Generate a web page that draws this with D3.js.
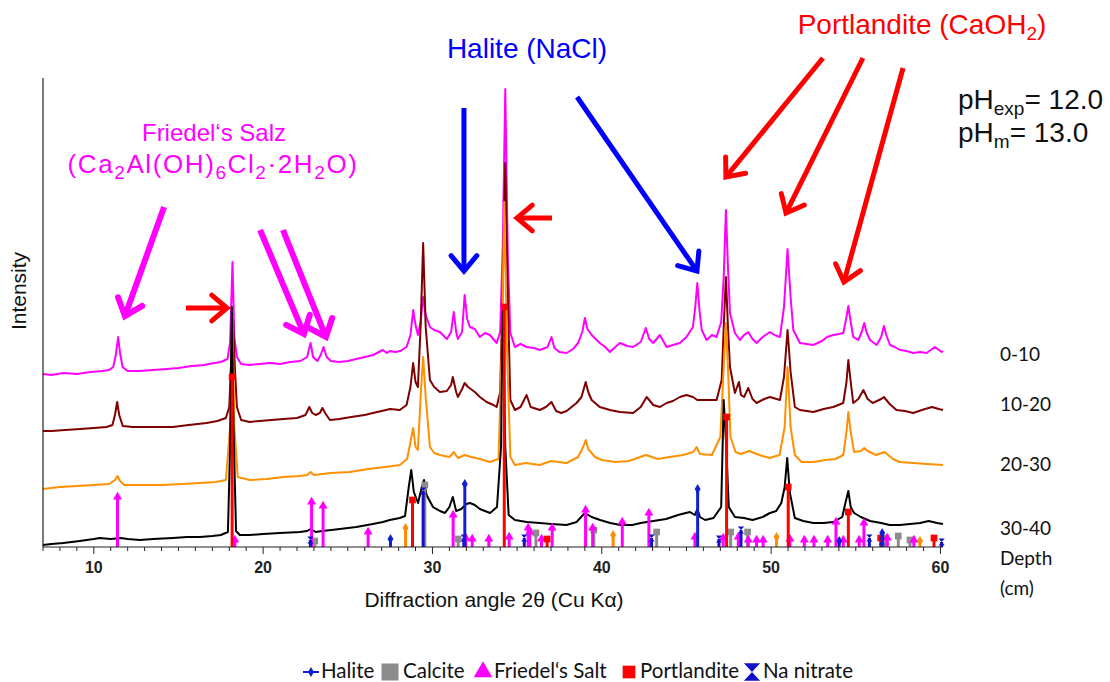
<!DOCTYPE html>
<html>
<head>
<meta charset="utf-8">
<script src="https://d3js.org/d3.v7.min.js"></script>
<style>
  html, body { margin: 0; padding: 0; background: #fff; }
  svg { display: block; }
</style>
</head>
<body>
<svg id="chart" width="1110" height="682"></svg>
<script>
// ---- XRD patterns: [2θ (deg), intensity (a.u., offset included)] ----
const pattern0_10 = [[6.99,173],[7.5,172],[8.2,174],[9.0,173],[9.8,175],[10.5,176],[10.9,177],[11.15,180],[11.3,192],[11.44,210],[11.55,194],[11.7,180],[12.0,176],[12.7,176],[13.5,177],[14.3,178],[15.0,179],[15.8,181],[16.5,182],[17.1,184],[17.5,185],[17.9,188],[18.05,205],[18.19,285],[18.3,210],[18.45,190],[18.7,183],[19.2,182],[19.8,183],[20.4,184],[21.0,183],[21.6,185],[22.2,186],[22.6,190],[22.8,204],[22.95,190],[23.2,186],[23.4,192],[23.57,200],[23.75,190],[24.0,186],[24.5,185],[25.0,186],[25.5,188],[26.0,190],[26.5,192],[27.07,197],[27.3,194],[27.48,196],[27.8,195],[28.1,196],[28.47,200],[28.7,212],[28.86,237],[29.0,222],[29.14,212],[29.3,225],[29.45,250],[29.6,232],[29.85,220],[30.1,217],[30.44,215],[30.85,208],[31.1,215],[31.26,235],[31.4,215],[31.5,208],[31.75,215],[31.9,252],[32.05,228],[32.21,220],[32.5,218],[32.8,210],[33.1,214],[33.39,212],[33.79,204],[34.0,215],[34.15,300],[34.3,458],[34.45,290],[34.6,214],[34.87,200],[35.2,203],[35.56,200],[36.0,199],[36.34,197],[36.8,200],[37.03,210],[37.2,199],[37.5,195],[37.92,194],[38.3,198],[38.6,204],[38.85,215],[39.0,229],[39.15,218],[39.4,212],[39.88,204],[40.2,200],[40.48,195],[40.8,200],[41.07,204],[41.5,201],[41.85,200],[42.3,205],[42.6,219],[42.8,208],[43.04,204],[43.43,212],[43.83,200],[44.2,202],[44.61,204],[45.0,210],[45.38,220],[45.52,240],[45.64,264],[45.78,235],[45.9,217],[46.19,207],[46.5,212],[46.78,210],[47.05,225],[47.2,270],[47.33,337],[47.45,280],[47.57,234],[47.86,214],[48.16,207],[48.4,212],[48.65,215],[48.9,208],[49.14,204],[49.5,210],[49.93,215],[50.2,212],[50.52,210],[50.76,240],[50.97,298],[51.15,250],[51.31,217],[51.7,204],[52.1,203],[52.49,202],[53.0,206],[53.3,210],[53.67,212],[54.0,213],[54.26,214],[54.45,230],[54.56,241],[54.7,225],[54.85,210],[55.15,207],[55.35,215],[55.5,224],[55.65,214],[55.84,207],[56.23,202],[56.5,210],[56.66,221],[56.8,212],[57.02,202],[57.3,200],[57.61,197],[58.0,196],[58.39,194],[58.8,195],[59.18,194],[59.67,200],[60.07,195],[60.15,196]];

const pattern10_20 = [[6.99,116],[7.5,116],[8.3,117],[9.2,118],[10.0,119],[10.75,120],[11.1,122],[11.25,132],[11.38,145],[11.5,132],[11.71,121],[12.3,120],[13.5,120],[14.67,120],[15.6,122],[16.66,124],[17.3,126],[17.8,129],[18.0,140],[18.12,190],[18.23,227],[18.33,180],[18.45,140],[18.7,127],[19.2,125],[19.8,126],[20.5,127],[21.2,128],[22.0,129],[22.5,132],[22.73,140],[22.9,134],[23.1,132],[23.35,134],[23.5,139],[23.7,133],[23.94,127],[24.5,128],[25.2,130],[26.0,132],[26.48,134],[27.0,136],[27.5,138],[28.07,137],[28.47,142],[28.7,160],[28.86,184],[29.0,165],[29.14,160],[29.3,220],[29.45,304],[29.6,220],[29.85,167],[30.1,160],[30.44,155],[30.85,156],[31.1,162],[31.2,170],[31.4,155],[31.5,150],[31.75,158],[31.9,164],[32.1,160],[32.5,155],[32.8,150],[33.2,145],[33.6,142],[33.79,140],[34.0,155],[34.15,260],[34.3,384],[34.45,250],[34.6,147],[34.87,137],[35.2,140],[35.56,152],[35.8,140],[36.34,137],[36.7,140],[37.03,145],[37.3,136],[37.6,134],[37.92,136],[38.51,144],[38.8,150],[39.05,165],[39.2,155],[39.4,147],[39.88,140],[40.48,137],[41.07,135],[41.85,134],[42.3,140],[42.65,150],[43.04,142],[43.43,140],[43.83,144],[44.2,146],[44.61,150],[45.0,152],[45.38,150],[45.64,147],[46.19,147],[46.78,147],[47.08,167],[47.2,220],[47.33,270],[47.45,220],[47.57,180],[47.86,154],[48.1,165],[48.22,152],[48.4,150],[48.65,159],[48.9,148],[49.14,144],[49.6,148],[49.93,150],[50.52,147],[50.76,170],[50.97,217],[51.15,175],[51.4,140],[51.7,137],[52.49,135],[53.1,138],[53.67,140],[54.26,144],[54.45,165],[54.56,187],[54.7,165],[54.85,144],[55.15,148],[55.45,157],[55.7,148],[56.0,144],[56.5,148],[56.66,150],[57.0,143],[57.4,137],[57.9,136],[58.39,134],[58.9,137],[59.5,140],[59.9,138],[60.15,137]];

const pattern20_30 = [[6.99,58],[8.0,60],[9.0,61],[10.0,62],[10.9,63],[11.25,67],[11.4,71],[11.55,66],[11.8,62],[12.8,62],[14.0,62],[15.2,63],[16.26,64],[17.2,65],[17.8,67],[18.05,120],[18.19,230],[18.3,120],[18.5,70],[19.21,67],[20.2,68],[21.2,70],[22.17,71],[22.6,72],[22.8,75],[23.0,72],[23.5,73],[24.0,74],[25.12,75],[26.2,78],[27.2,80],[28.07,82],[28.5,88],[28.7,105],[28.86,119],[29.0,100],[29.14,97],[29.3,150],[29.45,190],[29.6,150],[29.85,100],[30.1,94],[30.44,92],[31.0,90],[31.26,95],[31.5,89],[31.9,92],[32.3,90],[32.8,88],[33.39,85],[33.9,88],[34.1,200],[34.24,345],[34.4,200],[34.6,90],[34.87,82],[35.5,84],[36.34,82],[37.0,86],[37.92,84],[38.6,90],[38.9,100],[39.05,107],[39.2,98],[39.6,90],[40.0,87],[40.8,85],[41.6,86],[42.6,92],[43.3,88],[44.0,90],[44.8,92],[45.4,95],[45.6,100],[45.8,93],[46.5,92],[47.0,110],[47.2,180],[47.33,224],[47.45,180],[47.6,110],[47.9,95],[48.2,93],[48.7,96],[49.3,92],[49.9,89],[50.5,92],[50.8,120],[50.97,180],[51.15,120],[51.4,92],[51.8,85],[52.5,85],[53.2,87],[53.8,88],[54.26,92],[54.45,115],[54.56,135],[54.7,115],[54.9,95],[55.3,96],[55.5,99],[55.7,96],[56.2,92],[56.7,95],[57.2,88],[57.6,85],[58.4,84],[59.2,83],[60.15,82]];

const pattern30_40 = [[6.99,2],[7.5,3],[8.2,4],[9.17,6],[10.0,8],[10.35,9],[11.0,8],[11.6,9],[12.0,8],[12.72,7],[13.5,8],[14.67,9],[15.5,10],[16.26,10],[17.0,11],[17.5,12],[17.92,15],[18.05,100],[18.15,240],[18.25,120],[18.4,16],[18.62,12],[19.21,12],[20.0,13],[20.99,14],[22.17,15],[22.6,16],[22.8,18],[23.1,15],[23.5,16],[24.53,18],[25.5,20],[26.48,23],[27.07,25],[27.48,27],[28.07,29],[28.38,31],[28.6,60],[28.75,77],[28.9,55],[29.15,44],[29.3,55],[29.5,67],[29.65,52],[30.03,40],[30.44,36],[30.74,34],[31.0,40],[31.2,50],[31.4,36],[31.7,38],[32.0,43],[32.22,44],[32.5,42],[32.8,38],[33.4,34],[33.81,40],[34.05,100],[34.15,240],[34.3,100],[34.5,32],[34.87,27],[35.56,25],[36.34,24],[37.03,23],[37.92,22],[38.51,25],[39.0,34],[39.4,30],[39.9,27],[40.5,24],[41.1,22],[41.8,22],[42.3,24],[43.04,26],[43.8,28],[44.5,32],[45.2,35],[45.5,32],[45.64,38],[45.8,30],[46.1,27],[46.6,29],[47.05,40],[47.2,147],[47.35,100],[47.5,40],[47.86,30],[48.4,29],[48.9,27],[49.5,30],[49.93,34],[50.3,36],[50.6,44],[50.8,60],[50.95,89],[51.1,55],[51.4,29],[51.9,26],[52.49,24],[53.1,24],[53.67,25],[54.2,30],[54.4,45],[54.56,56],[54.7,40],[54.9,34],[55.3,30],[55.84,26],[56.5,24],[57.0,22],[57.6,22],[58.2,23],[58.8,24],[59.3,26],[59.8,24],[60.15,23]];

const depthLabels = ["0-10", "10-20", "20-30", "30-40"];

// ---- Reference stick patterns: [2θ, relative height] ----
const halite = [[27.52,8],[31.91,63],[45.66,58],[54.02,6],[56.56,14]];
const calcite = [[23.05,6],[29.55,62],[31.52,8],[36.11,14],[39.53,17],[43.24,15],[47.61,15],[48.61,15],[56.72,9],[57.51,11],[58.2,7]];
const friedel = [[11.4,50],[18.33,7],[22.86,45],[23.54,41],[26.2,15],[31.22,32],[31.97,9],[32.35,8],[33.33,8],[34.53,10],[35.65,19],[35.75,15],[36.44,8],[37.07,19],[39.04,37],[39.46,19],[41.21,25],[42.78,34],[45.5,10],[47.17,9],[48.06,10],[48.65,7],[49.14,7],[49.53,7],[51.11,8],[51.96,7],[52.53,7],[53.34,7],[53.83,25],[54.26,7],[55.2,7],[55.48,24],[56.86,9],[58.43,7]];
const portlandite = [[18.17,170],[28.82,47],[34.24,240],[36.77,8],[47.37,130],[51.01,60],[54.56,35],[56.47,9],[59.62,9]];
const naNitrate = [[22.79,7],[29.45,56],[31.85,9],[35.42,9],[42.94,9],[46.92,8],[48.22,17],[55.8,9],[56.55,6],[60.07,5]];
const otherPhase = [[28.41,19],[40.67,12],[50.32,10],[58.79,6]];

const xTickValues = [10, 20, 30, 40, 50, 60];

// ---- Layout ----
const svg = d3.select("#chart");
const x = d3.scaleLinear().domain([7, 60.15]).range([43, 943]);
const y = d3.scaleLinear().domain([0, 469]).range([547, 78]);

const traces = [
  { data: pattern0_10,  color: "#ff00ff" },
  { data: pattern10_20, color: "#7f0000" },
  { data: pattern20_30, color: "#ff9000" },
  { data: pattern30_40, color: "#000000" }
];

const line = d3.line().x(d => x(d[0])).y(d => y(d[1]));
svg.append("g").selectAll("path").data(traces).join("path")
  .attr("d", d => line(d.data))
  .attr("fill", "none")
  .attr("stroke", d => d.color)
  .attr("stroke-width", 2)
  .attr("stroke-linejoin", "round");

// ---- Stick markers ----
const hourglass = {
  draw(ctx, size) {
    const r = Math.sqrt(size) / 2;
    ctx.moveTo(-r, -r * 1.1); ctx.lineTo(r, -r * 1.1); ctx.lineTo(-r, r * 1.1); ctx.lineTo(r, r * 1.1); ctx.closePath();
  }
};
const phases = [
  { data: otherPhase,  color: "#ff8c00", symbol: d3.symbolDiamond, size: 30 },
  { data: calcite,     color: "#8c8c8c", symbol: d3.symbolSquare,  size: 45 },
  { data: friedel,     color: "#ff00ff", symbol: d3.symbolTriangle, size: 35 },
  { data: portlandite, color: "#ff0000", symbol: d3.symbolSquare,  size: 45 },
  { data: naNitrate,   color: "#1010c8", symbol: hourglass,        size: 40 },
  { data: halite,      color: "#1020d0", symbol: d3.symbolDiamond, size: 30 }
];
const sticks = svg.append("g");
phases.forEach(p => {
  const g = sticks.append("g");
  g.selectAll("line").data(p.data).join("line")
    .attr("x1", d => x(d[0])).attr("x2", d => x(d[0]))
    .attr("y1", y(0)).attr("y2", d => y(d[1]))
    .attr("stroke", p.color).attr("stroke-width", 3);
  g.selectAll("path").data(p.data).join("path")
    .attr("transform", d => `translate(${x(d[0])},${y(d[1])})`)
    .attr("d", d3.symbol(p.symbol, p.size))
    .attr("fill", p.color);
});

// ---- Axes ----
const axisG = svg.append("g").attr("font-family", "'Liberation Sans', Arial, sans-serif");
const minorTicks = d3.range(7, 61, 1);
axisG.selectAll("line.tick").data(minorTicks).join("line")
  .attr("x1", d => x(d)).attr("x2", d => x(d))
  .attr("y1", y(0)).attr("y2", d => y(0) + (d % 10 === 0 ? 7 : 4))
  .attr("stroke", "#222").attr("stroke-width", 1);
axisG.append("line").attr("x1", 43).attr("x2", 943).attr("y1", y(0)).attr("y2", y(0))
  .attr("stroke", "#222").attr("stroke-width", 1.2);
axisG.append("line").attr("x1", 43).attr("x2", 43).attr("y1", y(0)).attr("y2", 78)
  .attr("stroke", "#222").attr("stroke-width", 1.2);
axisG.selectAll("text.tl").data(xTickValues).join("text")
  .attr("x", d => x(d)).attr("y", 573)
  .attr("text-anchor", "middle").attr("font-size", 16).attr("font-weight", "bold")
  .attr("fill", "#222").text(d => d);
axisG.append("text").attr("x", 494).attr("y", 607).attr("text-anchor", "middle")
  .attr("font-size", 21).attr("fill", "#111").text("Diffraction angle 2θ (Cu Kα)");
axisG.append("text").attr("transform", "translate(26,291) rotate(-90)")
  .attr("text-anchor", "middle").attr("font-size", 21).attr("fill", "#111").text("Intensity");

// ---- Depth labels ----
const sideFont = "Lato, 'Open Sans', sans-serif";
const depthY = [361, 411, 471, 535];
svg.append("g").selectAll("text").data(depthLabels).join("text")
  .attr("x", 1000).attr("y", (d, i) => depthY[i])
  .attr("font-family", sideFont).attr("font-size", 19).attr("fill", "#111").text(d => d);
svg.append("text").attr("x", 1000).attr("y", 565).attr("font-family", sideFont).attr("font-size", 19).attr("fill", "#111").text("Depth");
svg.append("text").attr("x", 1000).attr("y", 595).attr("font-family", sideFont).attr("font-size", 19).attr("fill", "#111").text("(cm)");

// ---- Annotation arrows, in data coordinates [2θ, intensity] ----
const arrows = [
  { from: [14.15, 340], to: [11.84, 231], color: "#ff00ff", w: 6 },
  { from: [19.82, 317], to: [22.41, 213], color: "#ff00ff", w: 6 },
  { from: [21.17, 317], to: [23.71, 210], color: "#ff00ff", w: 6 },
  { from: [15.44, 239], to: [17.87, 239], color: "#ff0000", w: 5 },
  { from: [37.06, 329], to: [34.99, 329], color: "#ff0000", w: 5 },
  { from: [53.06, 489], to: [47.33, 370], color: "#ff0000", w: 5 },
  { from: [55.42, 489], to: [50.88, 334], color: "#ff0000", w: 5 },
  { from: [57.79, 479], to: [54.30, 265], color: "#ff0000", w: 5 },
  { from: [31.86, 439], to: [31.86, 276], color: "#0000ff", w: 5 },
  { from: [38.54, 450], to: [45.62, 276], color: "#0000ff", w: 5 }
];
const arrowG = svg.append("g");
arrows.forEach(a => {
  const x1 = x(a.from[0]), y1 = y(a.from[1]), x2 = x(a.to[0]), y2 = y(a.to[1]);
  const ang = Math.atan2(y2 - y1, x2 - x1);
  const L = 20, spread = Math.PI / 4.5;
  const back = ang + Math.PI;
  const p1 = [x2 + L * Math.cos(back - spread), y2 + L * Math.sin(back - spread)];
  const p2 = [x2 + L * Math.cos(back + spread), y2 + L * Math.sin(back + spread)];
  arrowG.append("line").attr("x1", x1).attr("y1", y1)
    .attr("x2", x2 - 2 * Math.cos(ang)).attr("y2", y2 - 2 * Math.sin(ang))
    .attr("stroke", a.color).attr("stroke-width", a.w);
  arrowG.append("path").attr("d", `M${p1[0]},${p1[1]}L${x2},${y2}L${p2[0]},${p2[1]}`)
    .attr("fill", "none").attr("stroke", a.color).attr("stroke-width", a.w)
    .attr("stroke-linejoin", "miter").attr("stroke-linecap", "round");
});

// ---- Annotation text ----
const annFont = "'Liberation Sans', Arial, sans-serif";
svg.append("text").attr("x", 527).attr("y", 58).attr("text-anchor", "middle")
  .attr("font-family", annFont).attr("font-size", 28).attr("fill", "#0000ff").text("Halite (NaCl)");

const portT = svg.append("text").attr("x", 922).attr("y", 34).attr("text-anchor", "middle")
  .attr("font-family", annFont).attr("font-size", 28).attr("fill", "#ff0000");
portT.append("tspan").text("Portlandite (CaOH");
portT.append("tspan").attr("font-size", 19).attr("dy", 6).text("2");
portT.append("tspan").attr("dy", -6).text(")");

svg.append("text").attr("x", 214).attr("y", 141).attr("text-anchor", "middle")
  .attr("font-family", annFont).attr("font-size", 24).attr("fill", "#ff00ff").text("Friedel‘s Salz");
const fs = svg.append("text").attr("x", 213).attr("y", 173).attr("text-anchor", "middle")
  .attr("font-family", annFont).attr("font-size", 26).attr("letter-spacing", 1.6).attr("fill", "#ff00ff");
[["(Ca",0],["2",1],["Al(OH)",0],["6",1],["Cl",0],["2",1],["·2H",0],["2",1],["O)",0]].forEach(([t, sub], i, arr) => {
  const prevSub = i > 0 ? arr[i - 1][1] : 0;
  const dy = sub && !prevSub ? 6 : (!sub && prevSub ? -6 : 0);
  fs.append("tspan").attr("dy", dy).attr("font-size", sub ? 19 : 26).text(t);
});

const ph1 = svg.append("text").attr("x", 958).attr("y", 109).attr("font-family", annFont).attr("font-size", 28).attr("fill", "#111");
ph1.append("tspan").text("pH");
ph1.append("tspan").attr("font-size", 19).attr("dy", 6).text("exp");
ph1.append("tspan").attr("dy", -6).text("= 12.0");
const ph2 = svg.append("text").attr("x", 958).attr("y", 142).attr("font-family", annFont).attr("font-size", 28).attr("fill", "#111");
ph2.append("tspan").text("pH");
ph2.append("tspan").attr("font-size", 19).attr("dy", 6).text("m");
ph2.append("tspan").attr("dy", -6).text("= 13.0");

// ---- Legend ----
const legendItems = [
  { name: "Halite", color: "#1020d0", symbol: d3.symbolDiamond, size: 30, line: true, mx: 311, tx: 321 },
  { name: "Calcite", color: "#8c8c8c", symbol: d3.symbolSquare, size: 290, mx: 390, tx: 403 },
  { name: "Friedel‘s Salt", color: "#ff00ff", symbol: d3.symbolTriangle, size: 150, mx: 483, tx: 494 },
  { name: "Portlandite", color: "#ff0000", symbol: d3.symbolSquare, size: 160, mx: 629, tx: 640 },
  { name: "Na nitrate", color: "#1010c8", symbol: hourglass, size: 260, mx: 752, tx: 763 }
];
const lg = svg.append("g");
legendItems.forEach(it => {
  if (it.line) lg.append("line").attr("x1", it.mx - 8).attr("x2", it.mx + 8).attr("y1", 672).attr("y2", 672)
    .attr("stroke", it.color).attr("stroke-width", 2);
  lg.append("path").attr("transform", `translate(${it.mx},672)`).attr("d", d3.symbol(it.symbol, it.size)).attr("fill", it.color);
  lg.append("text").attr("x", it.tx).attr("y", 678).attr("font-family", sideFont).attr("font-size", 20.5)
    .attr("fill", "#111").text(it.name);
});
</script>
</body>
</html>
